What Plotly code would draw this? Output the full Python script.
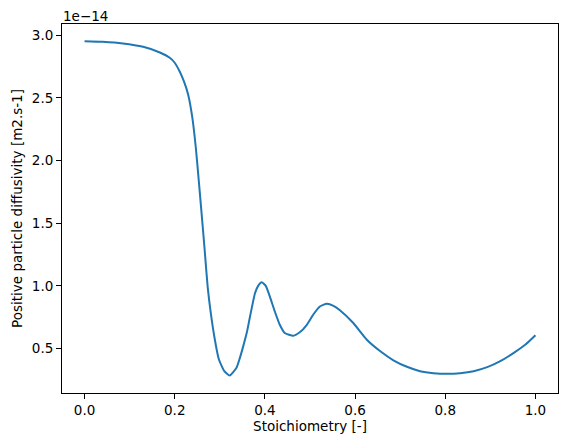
import plotly.graph_objects as go

# stoichiometry [-] and diffusivity in units of 1e-14 m2.s-1
stoich = [
    0.0, 0.04, 0.085, 0.13, 0.167, 0.189, 0.20, 0.211, 0.22, 0.2296, 0.239,
    0.2467, 0.2533, 0.259, 0.264, 0.267, 0.273, 0.28, 0.289, 0.298, 0.31,
    0.322, 0.337, 0.344, 0.352, 0.36, 0.367, 0.378, 0.385, 0.393, 0.402,
    0.411, 0.422, 0.433, 0.444, 0.463, 0.478, 0.493, 0.507, 0.522, 0.537,
    0.552, 0.567, 0.596, 0.626, 0.656, 0.685, 0.715, 0.744, 0.774, 0.804,
    0.833, 0.863, 0.893, 0.922, 0.952, 0.978, 1.0,
]
diffusivity = [
    2.952, 2.947, 2.934, 2.907, 2.862, 2.82, 2.78, 2.71, 2.635, 2.529, 2.344,
    2.106, 1.841, 1.603, 1.39, 1.259, 0.994, 0.783, 0.571, 0.413, 0.32,
    0.286, 0.347, 0.42, 0.52, 0.63, 0.756, 0.942, 1.0, 1.029, 1.0,
    0.915, 0.796, 0.69, 0.625, 0.603, 0.632, 0.69, 0.77, 0.836, 0.857,
    0.841, 0.804, 0.704, 0.571, 0.479, 0.407, 0.355, 0.32, 0.304, 0.299,
    0.304, 0.32, 0.352, 0.40, 0.466, 0.532, 0.606,
]
x_ticks = [0.0, 0.2, 0.4, 0.6, 0.8, 1.0]
y_ticks = [0.5, 1.0, 1.5, 2.0, 2.5, 3.0]

font = dict(family="DejaVu Sans", size=13.5, color="black")

fig = go.Figure()
fig.add_trace(
    go.Scatter(
        x=stoich,
        y=diffusivity,
        mode="lines",
        line=dict(color="#1f77b4", width=2, shape="spline", smoothing=0.5),
        showlegend=False,
    )
)

axis_style = dict(
    showline=True,
    linecolor="black",
    linewidth=1,
    mirror=True,
    ticks="outside",
    ticklen=5,
    tickwidth=1,
    tickcolor="black",
    showgrid=False,
    zeroline=False,
    tickfont=font,
    automargin=False,
)
fig.update_xaxes(
    range=[-0.05, 1.05],
    tickvals=x_ticks,
    tickformat=".1f",
    title=dict(text="Stoichiometry [-]", font=font, standoff=4),
    **axis_style,
)
fig.update_yaxes(
    range=[0.146, 3.089],
    tickvals=y_ticks,
    tickformat=".1f",
    title=dict(text="Positive particle diffusivity [m2.s-1]", font=font, standoff=6),
    **axis_style,
)
# offset exponent label, as matplotlib draws it above the y axis
fig.add_annotation(
    text="1e\u221214",
    xref="paper", yref="paper",
    x=0, y=1,
    xanchor="left", yanchor="bottom",
    yshift=-1,
    borderpad=0,
    showarrow=False,
    font=font,
)
# the page adds an 8px body margin, so the figure is shrunk by that much
fig.update_layout(
    width=559,
    height=431,
    margin=dict(l=54, r=9, t=16, b=46),
    plot_bgcolor="white",
    paper_bgcolor="white",
    font=font,
)

fig.write_html("out.html")
